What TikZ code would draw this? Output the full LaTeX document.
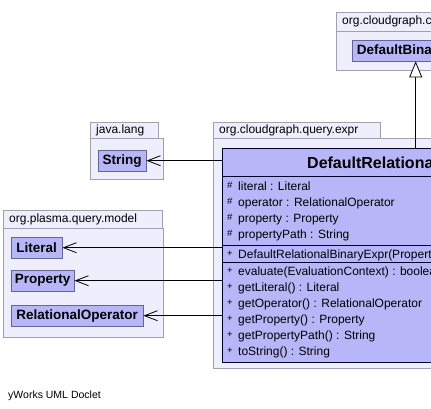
\documentclass[tikz,border=0pt]{standalone}
\usepackage{fontspec}
\setmainfont{Liberation Sans}
\usetikzlibrary{arrows.meta}
\definecolor{pkgfill}{RGB}{238,238,252}
\definecolor{pkgline}{RGB}{160,160,176}
\definecolor{clsfill}{RGB}{182,182,248}
\definecolor{clsline}{RGB}{100,100,150}
\newcommand\vis[1]{\makebox[11pt][l]{\raisebox{1.5pt}{\fontsize{9.5}{10}\selectfont#1}}}
\tikzset{
	pkgtab/.style  = {draw=pkgline, fill=pkgfill, rectangle, anchor=north west, inner xsep=6pt, inner ysep=0pt, align=left, font=\fontsize{12}{14}\selectfont},
	pkgbody/.style = {draw=pkgline, fill=pkgfill, rectangle, anchor=north west, inner sep=0pt},
	smallcls/.style = {draw=clsline, fill=clsfill, rectangle, anchor=north west, inner sep=0pt, minimum height=21pt, font=\fontsize{13.5}{15}\bfseries},
	bigcls/.style  = {draw=black!85!blue, fill=clsfill, rectangle, anchor=north west, inner sep=0pt},
	member/.style  = {anchor=base west, inner sep=0pt, font=\fontsize{12}{14}\selectfont},
	dep/.style     = {->, >={Straight Barb[length=13pt, width=10pt]}, thick},
	gen/.style     = {-{Triangle[open, fill=white, length=16pt, width=13pt]}, thick},
}
\begin{document}
\begin{tikzpicture}[x=1pt, y=-1pt]
		\useasboundingbox (0,0) rectangle (431,408);
		\clip (0,0) rectangle (431,408);

		% Packages
		\node[pkgtab , minimum width=200pt, minimum height=19pt, text width=188pt] (tabbase) at (336,12) {org.cloudgraph.common.query.expr};
		\node[pkgbody, minimum width=200pt, minimum height=39pt] (pkgbase) at (336,31) {};
		\node[pkgtab , minimum width=68pt, minimum height=16pt, text width=56pt] (tablang) at (90,122) {java.lang};
		\node[pkgbody, minimum width=73pt, minimum height=41pt] (pkglang) at (90,138) {};
		\node[pkgtab , minimum width=167pt, minimum height=16pt, text width=155pt] (tabexpr) at (213,122) {org.cloudgraph.query.expr};
		\node[pkgbody, minimum width=400pt, minimum height=230pt] (pkgexpr) at (213,138) {};
		\node[pkgtab , minimum width=159pt, minimum height=18pt, text width=147pt] (tabmodel) at (3,210) {org.plasma.query.model};
		\node[pkgbody, minimum width=160pt, minimum height=109pt] (pkgmodel) at (3,228) {};

		% Classes
		\node[smallcls, minimum width=127pt] (base) at (352,40) {DefaultBinaryExpr};
		\node[smallcls, minimum width=48pt] (string) at (98,150) {String};
		\node[smallcls, minimum width=51pt] (literal) at (11,237) {Literal};
		\node[smallcls, minimum width=63pt] (property) at (11,270) {Property};
		\node[smallcls, minimum width=132pt] (relop) at (11,305) {RelationalOperator};

		% Main class with its compartments
		\node[bigcls, minimum width=380pt, minimum height=214pt] (rel) at (222,148) {};
		\node[anchor=base west, inner sep=0pt, font=\fontsize{16}{18}\bfseries] (title) at (307,168) {DefaultRelationalBinaryExpr};
		\coordinate (sepa) at (222,176);
		\coordinate (sepb) at (222,245);
		\coordinate (sepc) at (222,262);
		\foreach \c in {sepa, sepb, sepc}
			\draw[black!85!blue] (\c) -- (\c -| rel.east);
		\node[member] (fa) at (227,190) {\vis{\#}literal : Literal};
		\node[member] (fb) at (227,206) {\vis{\#}operator : RelationalOperator};
		\node[member] (fc) at (227,222) {\vis{\#}property : Property};
		\node[member] (fd) at (227,238) {\vis{\#}propertyPath : String};
		\node[member] (ctor) at (227,258) {\vis{+}DefaultRelationalBinaryExpr(Property, RelationalOperator, Literal)};
		\node[member] (ma) at (227,275) {\vis{+}evaluate(EvaluationContext) : boolean};
		\node[member] (mb) at (227,291) {\vis{+}getLiteral() : Literal};
		\node[member] (mc) at (227,307) {\vis{+}getOperator() : RelationalOperator};
		\node[member] (md) at (227,323) {\vis{+}getProperty() : Property};
		\node[member] (me) at (227,339) {\vis{+}getPropertyPath() : String};
		\node[member] (mf) at (227,355) {\vis{+}toString() : String};

		% Connect everything together
		\draw[gen] (base.south |- rel.north) -- (base.south);
		\draw[dep] (string.east -| rel.west) -- (string.east);
		\draw[dep] (literal.east -| rel.west) -- (literal.east);
		\draw[dep] (property.east -| rel.west) -- (property.east);
		\draw[dep] (relop.east -| rel.west) -- (relop.east);

		\node[anchor=base west, inner sep=0pt, font=\fontsize{10.5}{12}\selectfont] (doclet) at (8,398) {yWorks UML Doclet};
	\end{tikzpicture}
\end{document}
